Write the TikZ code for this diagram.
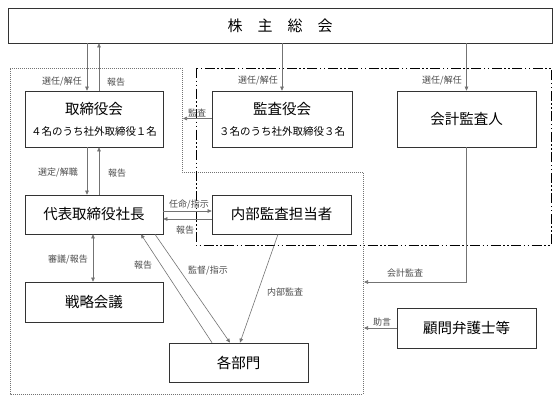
\documentclass[tikz,border=0pt]{standalone}
\usepackage{fontspec}
\setmainfont{Noto Sans CJK JP}
\usetikzlibrary{arrows.meta,calc}
\begin{document}
\begin{tikzpicture}[x=1pt,y=-1pt,
  box/.style={draw=black!80,line width=0.7pt,inner sep=0pt,fill=white},
  big/.style={font=\fontsize{14.5}{16}\selectfont,inner sep=0pt},
  small/.style={font=\fontsize{10.5}{12}\selectfont,inner sep=0pt},
  conn/.style={draw=black!55,line width=0.6pt},
  arr/.style={conn,-{Triangle[length=4pt,width=3.6pt]}},
  darr/.style={conn,{Triangle[length=4pt,width=3.6pt]}-{Triangle[length=4pt,width=3.6pt]}},
  lbl/.style={font=\fontsize{9}{10}\selectfont,text=black!70,inner sep=0pt},
  dotbox/.style={draw=black!55,line width=0.6pt,dash pattern=on 0.8pt off 1.2pt},
  ddbox/.style={draw=black,line width=1pt,dash pattern=on 10pt off 2.5pt on 1.5pt off 2.5pt on 1.5pt off 2.5pt}
]
\useasboundingbox (0,0) rectangle (558,402);
% group frames
\draw[dotbox] (10,68) -- (182,68) -- (182,172) -- (363,172) -- (363,394) -- (10,394) -- cycle;
\draw[ddbox] (196,68) rectangle (551,245);

% boxes
\node[box,minimum width=544pt,minimum height=35pt,font=\fontsize{15}{17}\selectfont] (top) at (280,25.5) {株　主　総　会};
\node[box,minimum width=138pt,minimum height=56pt] (tori) at (94,119) {};
\node[big] (toriT) at (94,109) {取締役会};
\node[small] (toriS) at (94,132) {４名のうち社外取締役１名};
\node[box,minimum width=140pt,minimum height=56pt] (kansa) at (282,119) {};
\node[big] (kansaT) at (282,109) {監査役会};
\node[small] (kansaS) at (282,132) {３名のうち社外取締役３名};
\node[box,big,minimum width=139pt,minimum height=56pt] (kaikei) at (466.5,119) {会計監査人};
\node[box,big,minimum width=138pt,minimum height=39pt] (shacho) at (94,214.5) {代表取締役社長};
\node[box,big,minimum width=139pt,minimum height=39pt] (naibu) at (281.5,214.5) {内部監査担当者};
\node[box,big,minimum width=138pt,minimum height=40pt] (senryaku) at (94,302) {戦略会議};
\node[box,big,minimum width=139pt,minimum height=39pt] (kakubu) at (238.5,362.5) {各部門};
\node[box,big,minimum width=139pt,minimum height=40pt] (komon) at (466.5,328) {顧問弁護士等};

% connectors
\draw[arr] ([xshift=-7pt]tori.north |- top.south) -- ([xshift=-7pt]tori.north);
\draw[arr] ([xshift=5pt]tori.north) -- ([xshift=5pt]tori.north |- top.south);
\draw[arr] (kansa.north |- top.south) -- (kansa.north);
\draw[arr] (kaikei.north |- top.south) -- (kaikei.north);
\coordinate (kansaTip) at (183,118.5);
\draw[arr] (kansa.west |- kansaTip) -- (kansaTip);
\draw[arr] ([xshift=-7pt]tori.south) -- ([xshift=-7pt]shacho.north);
\draw[arr] ([xshift=5pt]shacho.north) -- ([xshift=5pt]tori.south);
\draw[arr] ([yshift=3.5pt]shacho.east) -- ([yshift=3.5pt]naibu.west);
\draw[arr] ([yshift=-4.5pt]naibu.west) -- ([yshift=-4.5pt]shacho.east);
\draw[darr] ([xshift=-1pt]shacho.south) -- ([xshift=-1pt]senryaku.north);
\draw[arr] ([xshift=-26.5pt]kakubu.north) -- ([xshift=47pt]shacho.south);
\draw[arr] ([xshift=61pt]shacho.south) -- ([xshift=-8.5pt]kakubu.north);
\draw[arr] ([xshift=-3.5pt]naibu.south) -- ([xshift=1.5pt]kakubu.north);
\coordinate (kaikeiTip) at (364,282);
\draw[arr] (kaikei.south) |- (kaikeiTip);
\coordinate (komonTip) at (364,328);
\draw[arr] (komon.west) -- (komonTip);

% labels
\node[lbl] (l1) at (62,82) {選任/解任};
\node[lbl] (l2) at (116,82) {報告};
\node[lbl] (l3) at (258,81) {選任/解任};
\node[lbl] (l4) at (442,81) {選任/解任};
\node[lbl] (l5) at (197,113) {監査};
\node[lbl] (l6) at (58,173) {選定/解職};
\node[lbl] (l7) at (117,173) {報告};
\node[lbl] (l8) at (189,205) {任命/指示};
\node[lbl] (l9) at (185,230) {報告};
\node[lbl] (l10) at (68,260) {審議/報告};
\node[lbl] (l11) at (143,265) {報告};
\node[lbl] (l12) at (208,271) {監督/指示};
\node[lbl] (l13) at (285,292) {内部監査};
\node[lbl] (l14) at (405,273) {会計監査};
\node[lbl] (l15) at (382,322) {助言};
\end{tikzpicture}
\end{document}
